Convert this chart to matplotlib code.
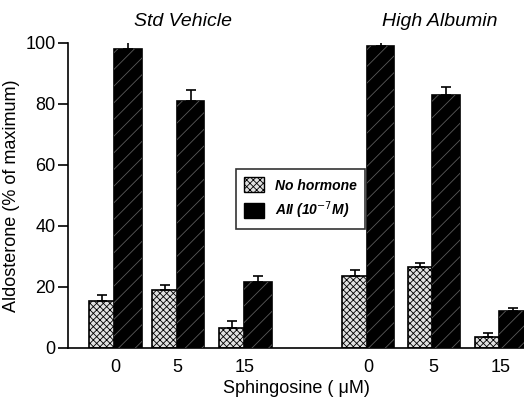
import matplotlib.pyplot as plt
import matplotlib.patches as mpatches
import numpy as np

# values
groups = ["Std Vehicle", "High Albumin"]
doses = ["0", "5", "15", "0", "5", "15"]
no_hormone = [15.5, 19, 6.5, 23.5, 26.5, 3.5]
no_hormone_err = [1.8, 1.8, 2.2, 2.0, 1.5, 1.5]
angio = [98, 81, 21.5, 99, 83, 12]
angio_err = [2.5, 3.5, 2.0, 1.5, 2.5, 1.0]

pos = np.array([0, 0.98, 2.03, 3.95, 4.97, 6.02])
w = 0.40

plt.rcParams['font.family'] = ['Liberation Sans', 'DejaVu Sans']
plt.rcParams['hatch.linewidth'] = 0.6
fig = plt.figure(figsize=(5.24, 4.03), dpi=100)
ax = fig.add_axes([0.130, 0.1365, 0.870, 0.757])

pale = "#e0e0e0"
# no hormone bars: stippled light grey
ax.bar(pos - w / 2, no_hormone, w, color=pale, edgecolor="black",
       linewidth=1.2, hatch="xxxxx", zorder=2)
# AII bars: black with faint diagonal lines
ax.bar(pos + w / 2, angio, w + 0.03, color="black", edgecolor="black",
       linewidth=1.2, zorder=2)
ax.bar(pos + w / 2, angio, w + 0.03, color="none", edgecolor="#5a5a5a",
       linewidth=0, hatch="//", zorder=3)

ax.errorbar(pos - w / 2, no_hormone, yerr=[np.zeros(6), no_hormone_err],
            fmt="none", ecolor="black", elinewidth=1.2, capsize=3.5,
            capthick=1.2, zorder=4)
ax.errorbar(pos + w / 2, angio, yerr=[np.zeros(6), angio_err],
            fmt="none", ecolor="black", elinewidth=1.2, capsize=3.5,
            capthick=1.2, zorder=4)

ax.set_xlim(-0.734, 6.39)
ax.set_ylim(0, 100)
ax.set_xticks(pos)
ax.set_xticklabels(doses, fontsize=13)
ax.tick_params(axis="x", length=0, pad=8)
ax.set_yticks([0, 20, 40, 60, 80, 100])
ax.tick_params(axis="y", direction="out", length=7, width=1.2, labelsize=13, pad=2)
for s in ["top", "right"]:
    ax.spines[s].set_visible(False)
ax.spines["left"].set_linewidth(1.2)
ax.spines["bottom"].set_linewidth(1.2)

ax.set_ylabel("Aldosterone (% of maximum)", fontsize=13, labelpad=4)
ax.set_xlabel("Sphingosine ( \u03bcM)", fontsize=13, labelpad=3)

ax.text(1.06, 107, groups[0], fontsize=14, style="italic", ha="center",
        va="center", clip_on=False)
ax.text(5.08, 107, groups[1], fontsize=14, style="italic", ha="center",
        va="center", clip_on=False)

h1 = mpatches.Patch(facecolor=pale, edgecolor="black", hatch="xxxxx")
h2 = mpatches.Patch(facecolor="black", edgecolor="black")
leg = fig.legend([h1, h2], ["No hormone", "AII (10$^{-7}$M)"],
                 loc="upper left", bbox_to_anchor=(0.437, 0.598),
                 prop={"style": "italic", "weight": "bold", "size": 10},
                 frameon=True, fancybox=False, edgecolor="black",
                 handlelength=1.4, handleheight=1.3, borderpad=0.6,
                 labelspacing=0.5)
leg.get_frame().set_linewidth(1.2)

fig.savefig("out.png", dpi=100)
